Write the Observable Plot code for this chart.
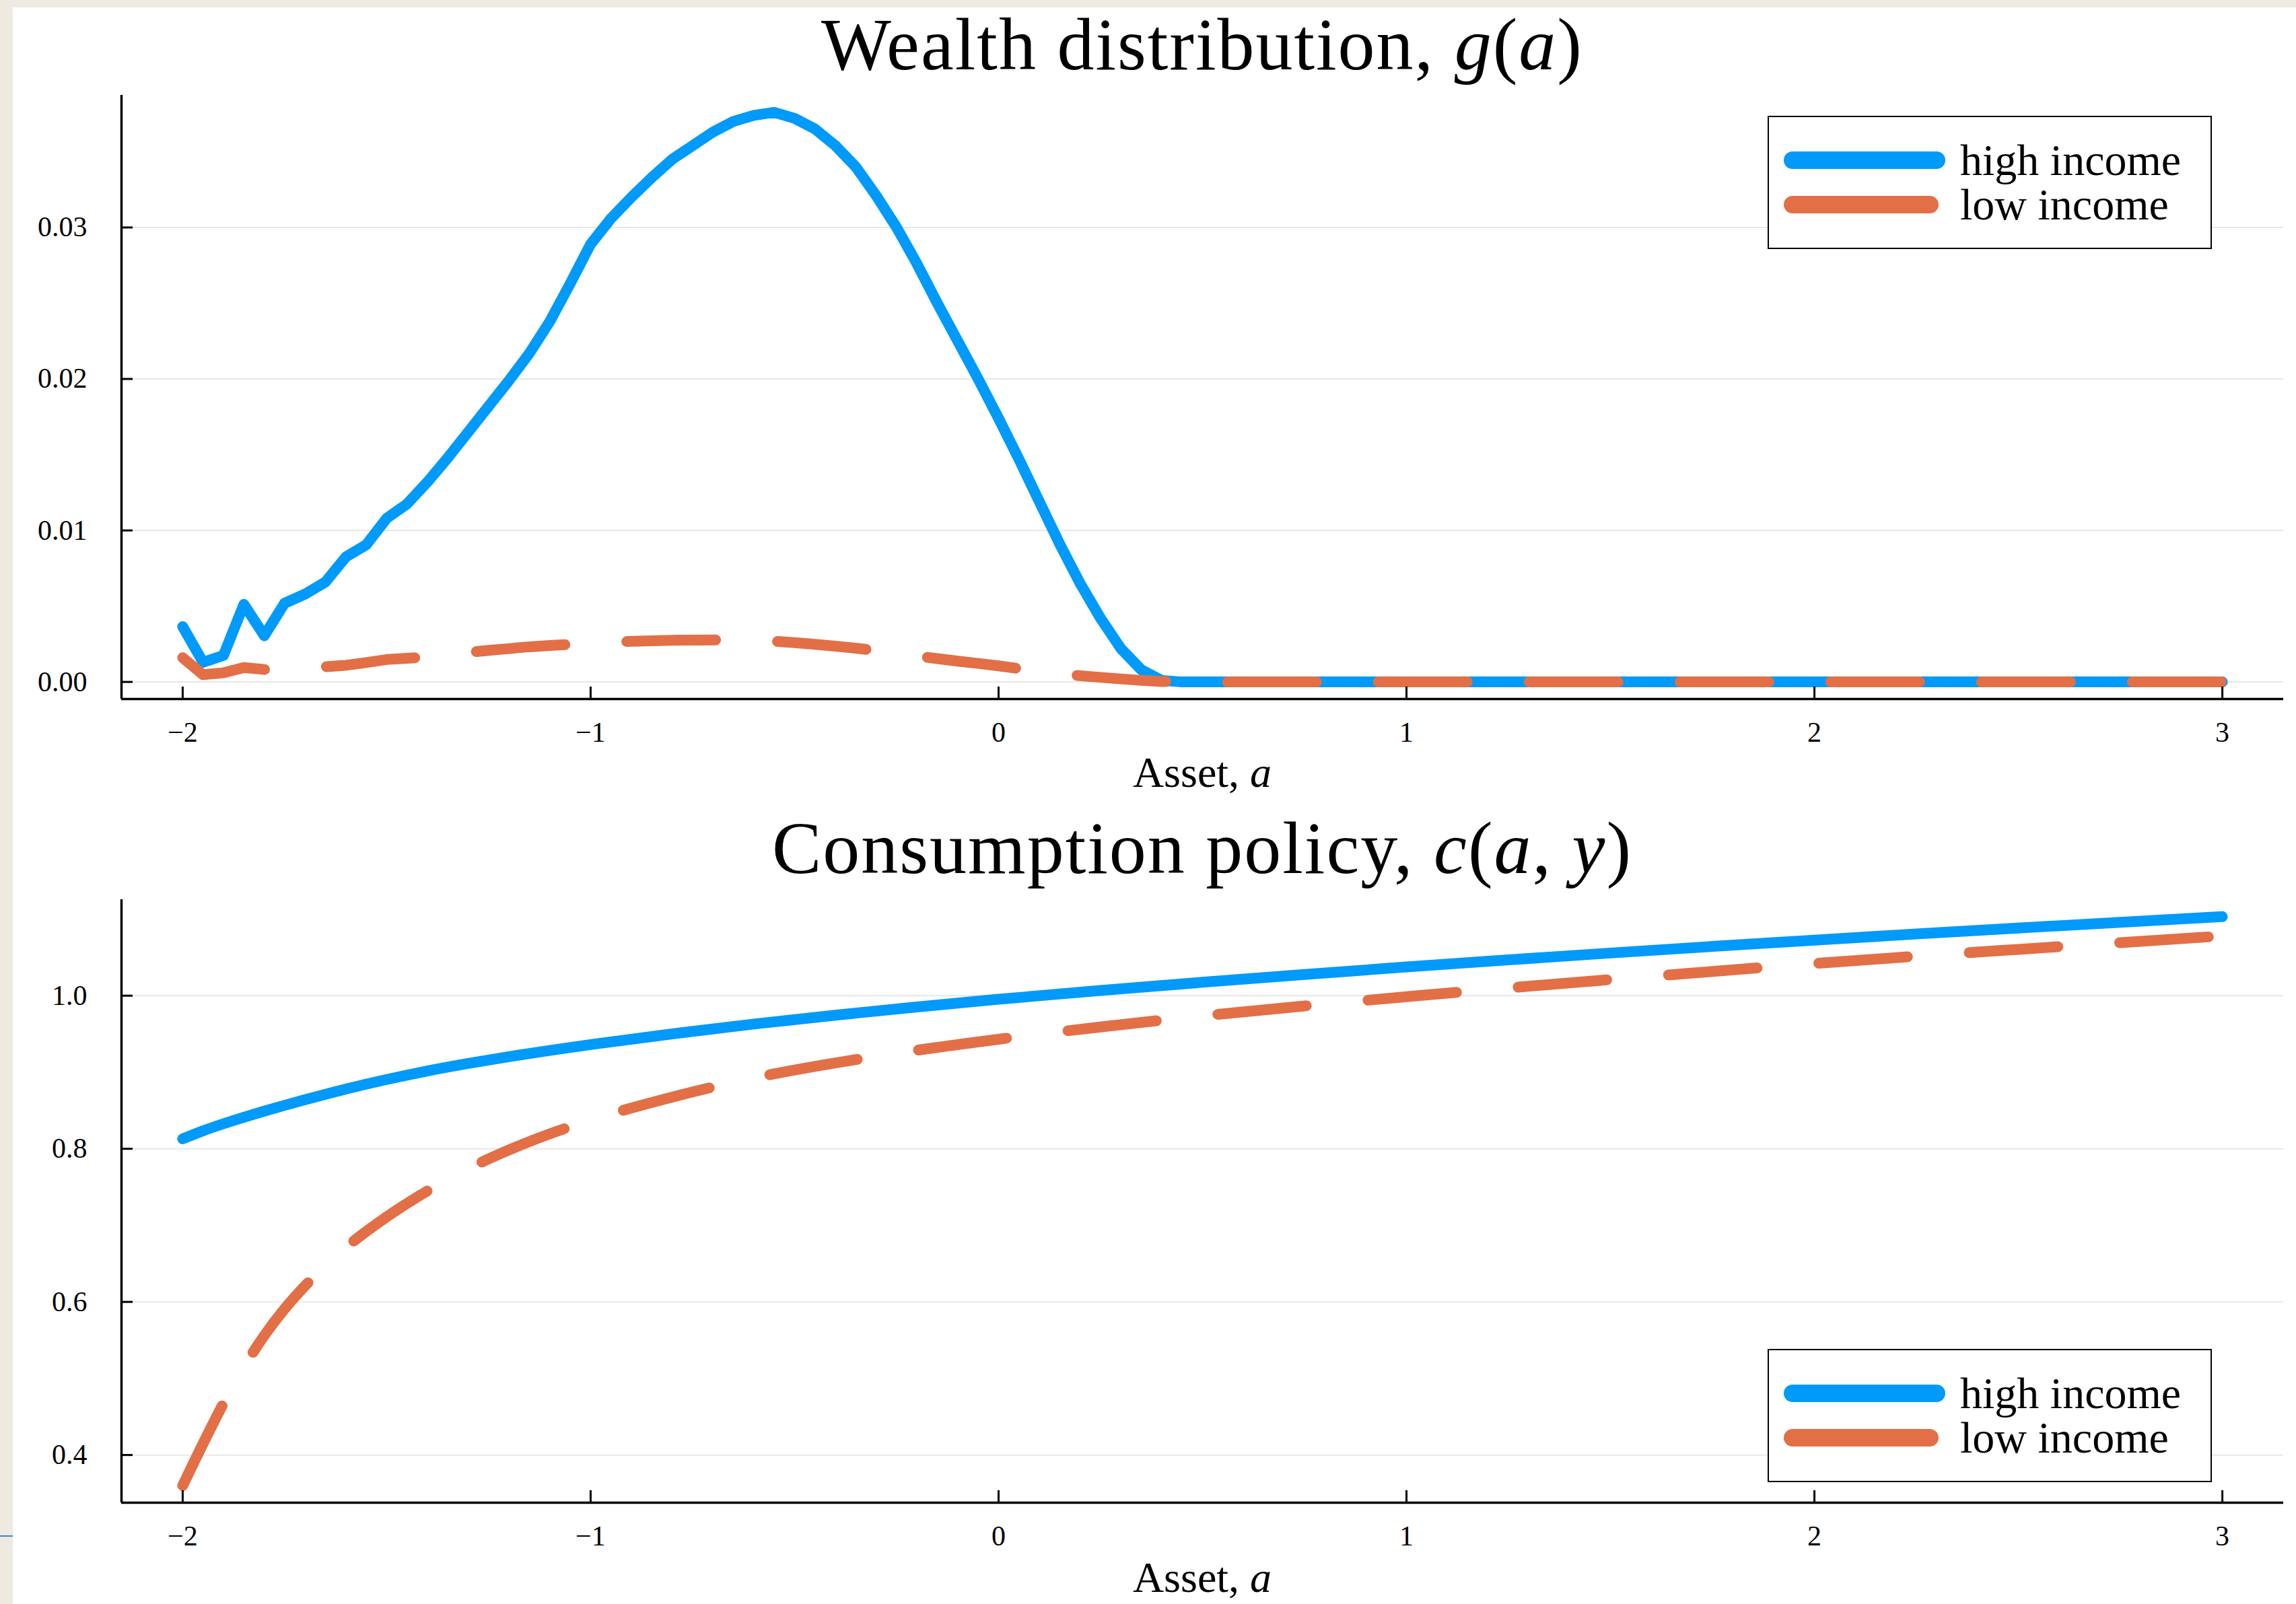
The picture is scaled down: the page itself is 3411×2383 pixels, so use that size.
<!DOCTYPE html>
<html>
<head>
<meta charset="utf-8">
<script src="https://cdn.jsdelivr.net/npm/d3@7"></script>
<script src="https://cdn.jsdelivr.net/npm/@observablehq/plot@0.6"></script>
<style>
  html, body { margin: 0; padding: 0; background: #fff; }
  body { width: 3411px; height: 2383px; position: relative; overflow: hidden; font-family: "Liberation Serif", "DejaVu Serif", serif; }
  .txt { position: absolute; white-space: nowrap; line-height: 1; color: #000; }
  .legend { position: absolute; border: 2.5px solid #000; box-sizing: border-box; background: #fff; }
  .swatch { position: absolute; height: 26px; border-radius: 13px; }
  .panel { position: absolute; left: 0; }
  .edge { position: absolute; background: #EEEAE0; z-index: 5; }
</style>
</head>
<body>
<script>
// Series names and colours (Plots.jl default palette)
const seriesNames = ["high income", "low income"];
const seriesColors = ["#009AFA", "#E36F47"];

// Axis ticks
const xTicks = [-2, -1, 0, 1, 2, 3];
const gTicks = [0, 0.01, 0.02, 0.03];
const cTicks = [0.4, 0.6, 0.8, 1.0];

// Wealth distribution g(a) on the asset grid (zero beyond a = 0.45)
const wealthAsset = [-2.00,-1.95,-1.90,-1.85,-1.80,-1.75,-1.70,-1.65,-1.60,-1.55,-1.50,-1.45,-1.40,-1.35,-1.30,-1.25,-1.20,-1.15,-1.10,-1.05,-1.00,-0.95,-0.90,-0.85,-0.80,-0.75,-0.70,-0.65,-0.60,-0.55,-0.50,-0.45,-0.40,-0.35,-0.30,-0.25,-0.20,-0.15,-0.10,-0.05,0.00,0.05,0.10,0.15,0.20,0.25,0.30,0.35,0.40,0.45,3.00];
const gHigh = [0.00365,0.00130,0.00175,0.00512,0.00305,0.00520,0.00580,0.00660,0.00825,0.00905,0.01080,0.01175,0.01320,0.01480,0.01650,0.01820,0.01990,0.02170,0.02380,0.02630,0.02890,0.03060,0.03200,0.03330,0.03450,0.03540,0.03630,0.03700,0.03740,0.03760,0.03720,0.03650,0.03540,0.03400,0.03210,0.03000,0.02760,0.02500,0.02250,0.02000,0.01740,0.01470,0.01190,0.00910,0.00650,0.00420,0.00220,0.00080,0.00010,0,0];
const gLow = [0.00160,0.00048,0.00060,0.00095,0.00082,0.00088,0.00094,0.00100,0.00110,0.00128,0.00148,0.00156,0.00165,0.00178,0.00195,0.00208,0.00220,0.00232,0.00240,0.00248,0.00255,0.00262,0.00268,0.00272,0.00275,0.00276,0.00277,0.00276,0.00273,0.00269,0.00259,0.00248,0.00236,0.00223,0.00207,0.00190,0.00171,0.00154,0.00137,0.00122,0.00106,0.00088,0.00070,0.00054,0.00041,0.00030,0.00020,0.00010,0.00003,0,0];

// Consumption policy c(a, y)
const consAsset = [-2.00,-1.95,-1.90,-1.85,-1.80,-1.75,-1.70,-1.60,-1.50,-1.40,-1.30,-1.20,-1.10,-1.00,-0.80,-0.60,-0.40,-0.20,0.00,0.25,0.50,0.75,1.00,1.25,1.50,1.75,2.00,2.25,2.50,2.75,3.00];
const cHigh = [0.8130,0.8235,0.8327,0.8412,0.8492,0.8568,0.8641,0.8780,0.8905,0.9017,0.9115,0.9204,0.9285,0.9361,0.9501,0.9629,0.9745,0.9852,0.9953,1.0068,1.0175,1.0277,1.0375,1.0468,1.0557,1.0643,1.0726,1.0806,1.0884,1.0959,1.1032];
const cLow = [0.3600,0.4150,0.4675,0.5150,0.5560,0.5910,0.6210,0.6710,0.7110,0.7450,0.7740,0.7985,0.8195,0.8375,0.8675,0.8925,0.9121,0.9287,0.9431,0.9591,0.9736,0.9866,0.9986,1.0101,1.0211,1.0316,1.0420,1.0515,1.0605,1.0693,1.0780];

const PAGE_W = 3411;
const FONT = "'Liberation Serif', 'DejaVu Serif', serif";

// Plots.jl-style limits: data extent widened by 3% on each side
function widen([lo, hi]) { const r = hi - lo; return [lo - 0.03 * r, hi + 0.03 * r]; }
const xDomain = widen([-2, 3]);

function rows(xs, ys) { return xs.map((a, i) => ({a, v: ys[i]})); }

function panel({top, height, margin, yValues, yTicks, yFormat, high, low, curve}) {
  const yDomain = widen(d3.extent(yValues));
  const fw = PAGE_W - margin.left - margin.right;
  const fh = height - margin.top - margin.bottom;
  const chart = Plot.plot({
    width: PAGE_W,
    height,
    marginTop: margin.top,
    marginRight: margin.right,
    marginBottom: margin.bottom,
    marginLeft: margin.left,
    x: {domain: xDomain},
    y: {domain: yDomain},
    style: {fontFamily: FONT, fontSize: "42px", background: "transparent", color: "#000", overflow: "visible"},
    marks: [
      Plot.ruleY(yTicks, {stroke: "#000", strokeOpacity: 0.09, strokeWidth: 2}),
      Plot.line(high, {x: "a", y: "v", stroke: seriesColors[0], strokeWidth: 16, strokeLinecap: "round", strokeLinejoin: "round", curve}),
      Plot.line(low, {x: "a", y: "v", stroke: seriesColors[1], strokeWidth: 16, strokeLinecap: "round", strokeLinejoin: "round", strokeDasharray: "132,92", curve}),
      Plot.ruleX([xDomain[0]], {stroke: "#000", strokeWidth: 3.5}),
      Plot.ruleY([yDomain[0]], {stroke: "#000", strokeWidth: 3.5}),
      Plot.tickX(xTicks, {x: d => d, stroke: "#000", strokeWidth: 3, insetTop: fh - 18}),
      Plot.tickY(yTicks, {y: d => d, stroke: "#000", strokeWidth: 3, insetRight: fw - 17}),
      Plot.axisX(xTicks, {tickSize: 0, tickPadding: 34, tickFormat: d3.format("d"), label: null}),
      Plot.axisY(yTicks, {tickSize: 0, tickPadding: 51, tickFormat: yFormat, label: null})
    ]
  });
  const wrap = document.createElement("div");
  wrap.className = "panel";
  wrap.style.top = top + "px";
  wrap.appendChild(chart);
  document.body.appendChild(wrap);
}

// Text placed by its baseline (Liberation Serif, line-height 1)
function addText(html, x, baseline, size, anchor = "middle", extra = "") {
  const d = document.createElement("div");
  d.className = "txt";
  d.innerHTML = html;
  d.style.fontSize = size + "px";
  d.style.top = (baseline - 0.8375 * size) + "px";
  d.style.left = x + "px";
  if (anchor === "middle") d.style.transform = "translateX(-50%)";
  if (extra) d.style.cssText += extra;
  document.body.appendChild(d);
}

function addLegend(boxTop) {
  const box = document.createElement("div");
  box.className = "legend";
  Object.assign(box.style, {left: "2626px", top: boxTop + "px", width: "660px", height: "198px"});
  document.body.appendChild(box);
  const rowsY = [boxTop + 66.3, boxTop + 132.3];
  const widths = [240, 230];
  seriesNames.forEach((name, i) => {
    const s = document.createElement("div");
    s.className = "swatch";
    Object.assign(s.style, {left: "2649.5px", top: (rowsY[i] - 13) + "px", width: widths[i] + "px", background: seriesColors[i]});
    document.body.appendChild(s);
    addText(name, 2912, rowsY[i] + 22, 66, "start");
  });
}

// Upper panel: wealth distribution
panel({
  top: 0, height: 1200,
  margin: {top: 141, right: 19, bottom: 162, left: 180},
  yValues: gHigh.concat(gLow), yTicks: gTicks, yFormat: d3.format(".2f"),
  high: rows(wealthAsset, gHigh), low: rows(wealthAsset, gLow),
  curve: "linear"
});

// Lower panel: consumption policy
panel({
  top: 1200, height: 1183,
  margin: {top: 136, right: 19, bottom: 151, left: 180},
  yValues: cHigh.concat(cLow), yTicks: cTicks, yFormat: d3.format(".1f"),
  high: rows(consAsset, cHigh), low: rows(consAsset, cLow),
  curve: "monotone-x"
});

// Titles and axis labels
addText("Wealth distribution, <i>g</i>(<i>a</i>)", 1786, 103, 110, "middle", "letter-spacing:2px;");
addText("Consumption policy, <i>c</i>(<i>a</i>, <i>y</i>)", 1786, 1297, 110, "middle", "letter-spacing:2px;");
addText("Asset, <i>a</i>", 1786, 1170, 64);
addText("Asset, <i>a</i>", 1786, 2366, 64);

addLegend(172);
addLegend(2004);

// Page edge strips
const left = document.createElement("div");
left.className = "edge";
Object.assign(left.style, {left: "0px", top: "0px", width: "19px", height: "2383px"});
document.body.appendChild(left);
const topStrip = document.createElement("div");
topStrip.className = "edge";
Object.assign(topStrip.style, {left: "0px", top: "0px", width: "3411px", height: "11px"});
document.body.appendChild(topStrip);
const mark = document.createElement("div");
Object.assign(mark.style, {position: "absolute", left: "0px", top: "2281px", width: "19px", height: "2px", background: "#3B87C8", zIndex: 6});
document.body.appendChild(mark);
</script>
</body>
</html>
